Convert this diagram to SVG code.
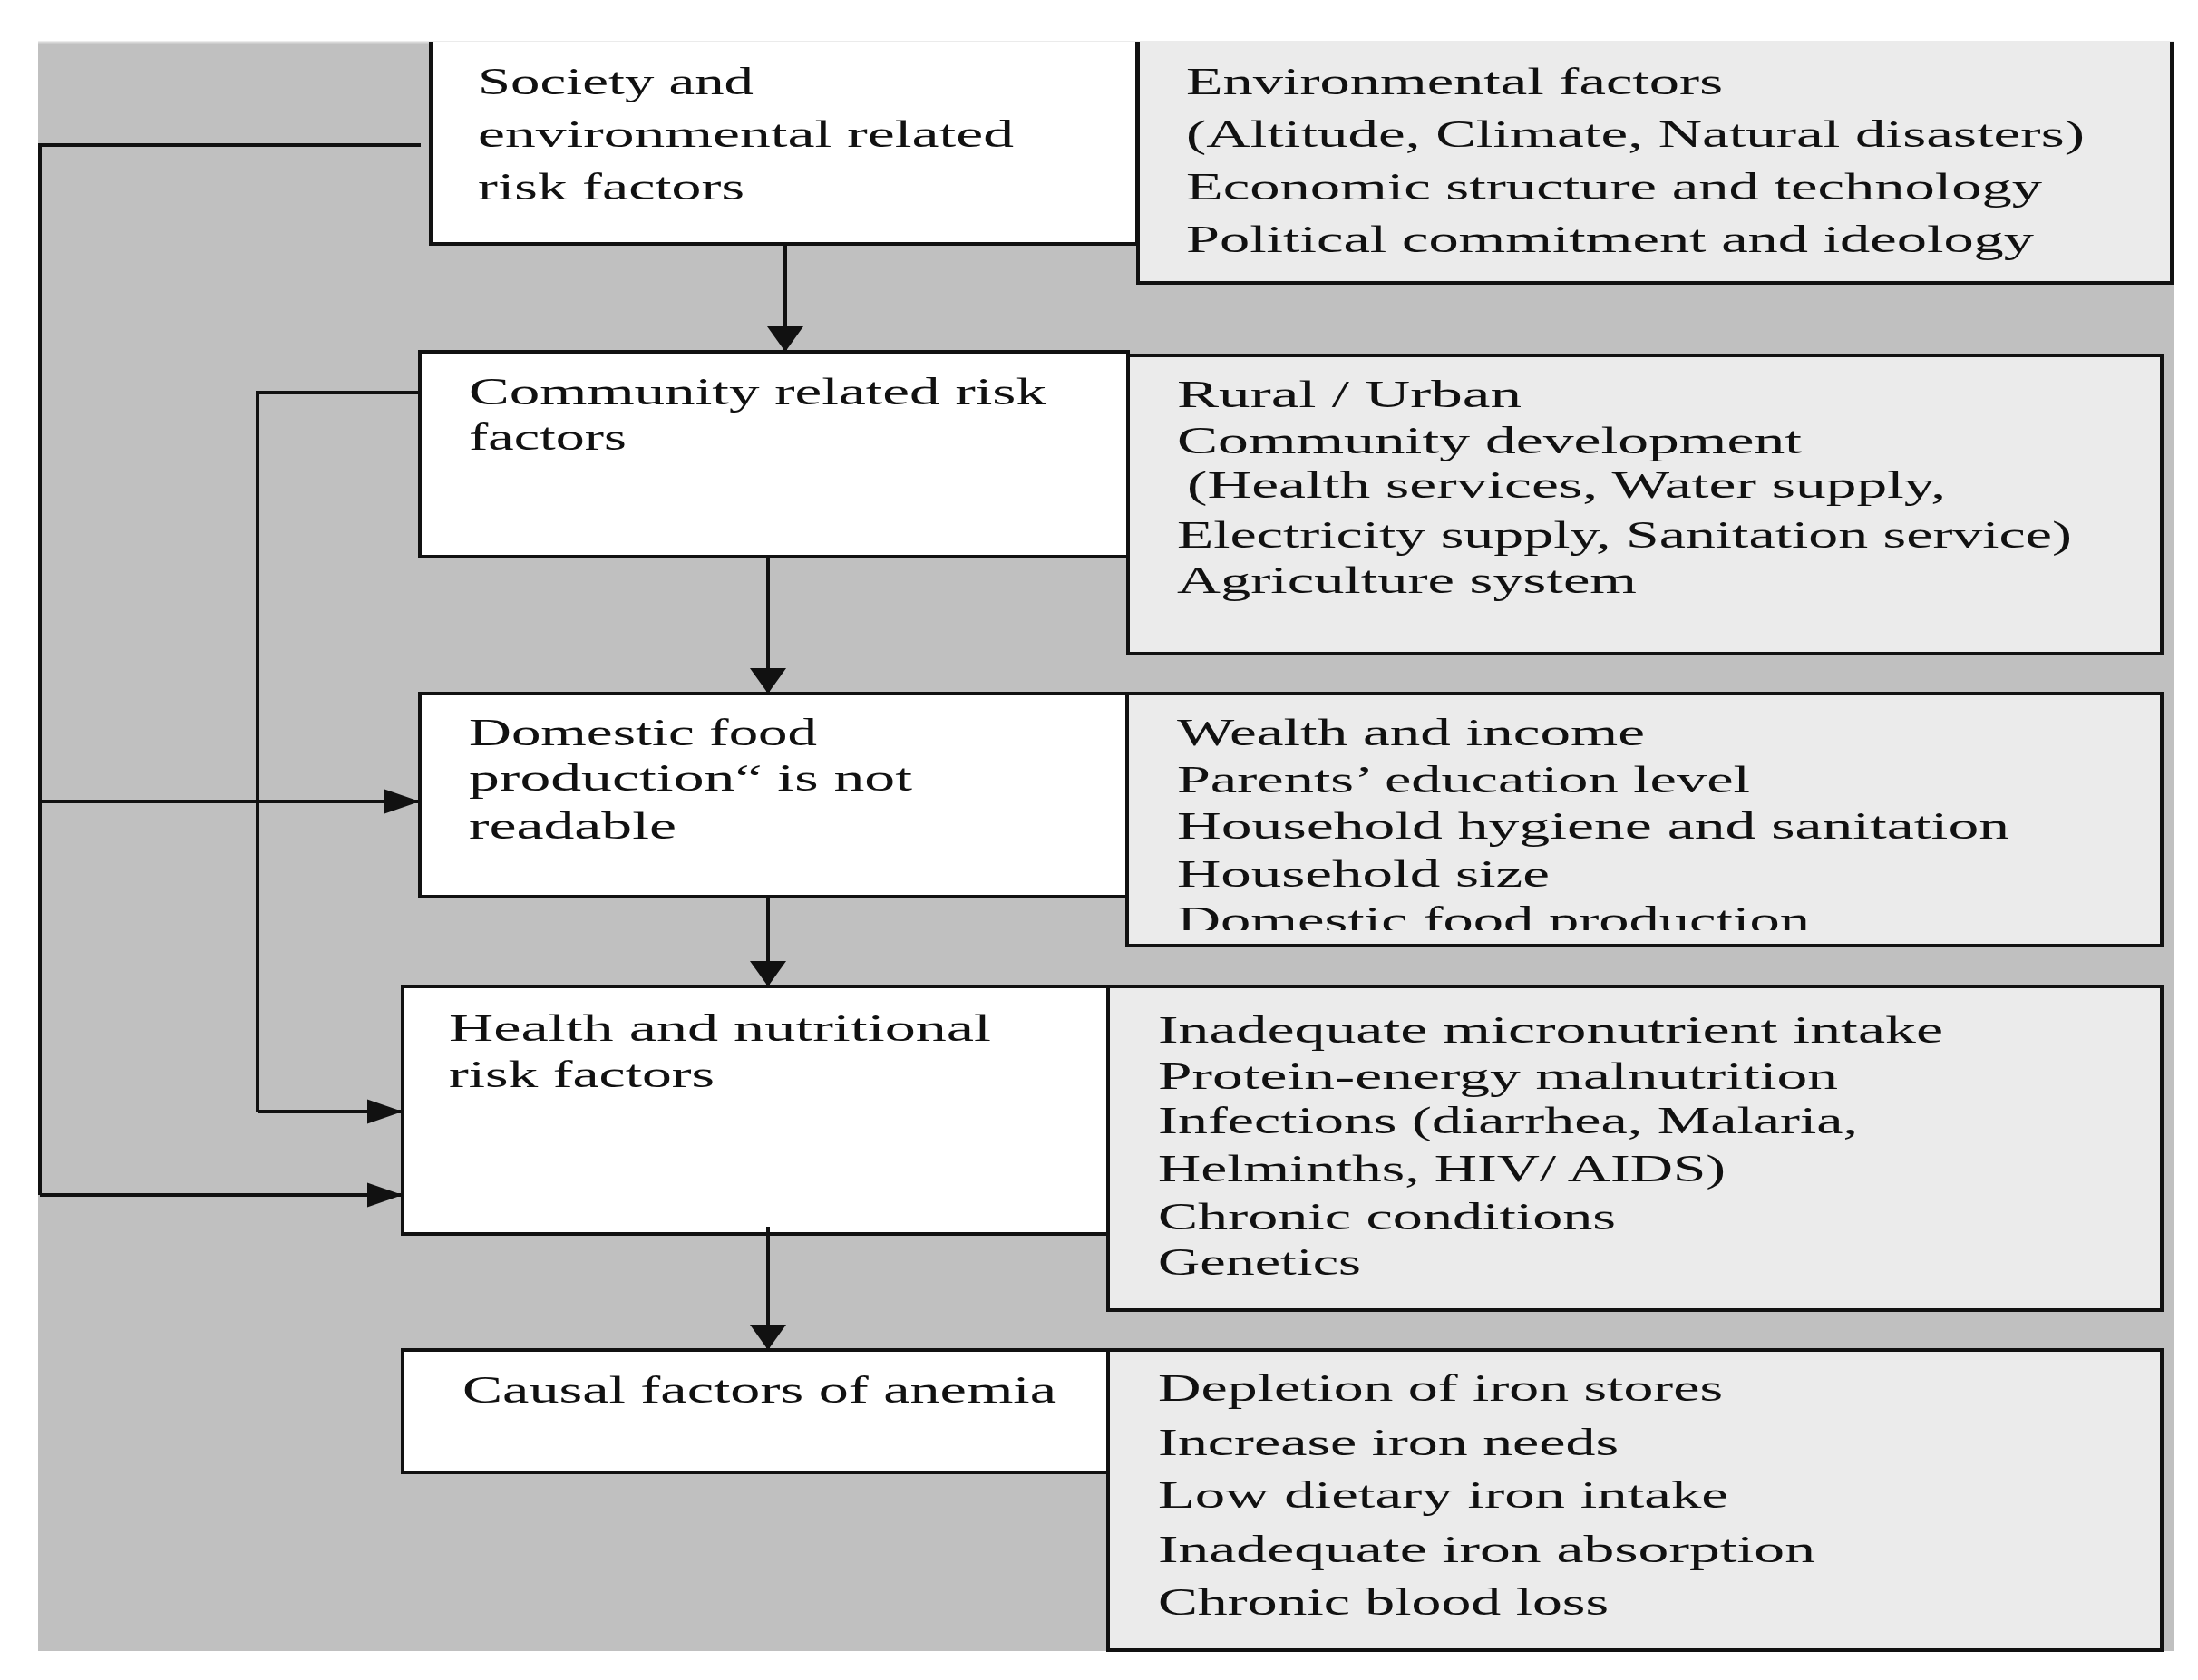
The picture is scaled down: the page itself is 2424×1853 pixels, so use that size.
<svg xmlns="http://www.w3.org/2000/svg" width="2424" height="1853" viewBox="0 0 2424 1853">
<style>
.bg{fill:#c0c0c0}
.lbox{fill:#ffffff;stroke:#111;stroke-width:4}
.rbox{fill:#ebebeb;stroke:#111;stroke-width:4}
.edge{fill:none;stroke:#111;stroke-width:4}
text{font-family:"Liberation Serif","Times New Roman",serif;font-size:42px;fill:#111}
</style>
<defs>
<marker id="ad" markerUnits="userSpaceOnUse" markerWidth="40" markerHeight="44" viewBox="0 -22 30 44" refX="28" refY="0" orient="auto"><path d="M0,-20 L28,0 L0,20 Z" fill="#111"/></marker>
<marker id="ar" markerUnits="userSpaceOnUse" markerWidth="42" markerHeight="32" viewBox="0 -16 41 32" refX="39" refY="0" orient="auto"><path d="M0,-13.5 L39,0 L0,13.5 Z" fill="#111"/></marker>
<clipPath id="clipDom"><rect x="1245" y="767" width="1137" height="259"/></clipPath>
</defs>
<rect class="bg" x="42" y="46" width="2356" height="1775"/>
<line x1="42" y1="46.5" x2="2398" y2="46.5" stroke="#d8d8d8" stroke-width="2"/>

<g id="env-factors">
<rect x="1255" y="46" width="1140" height="266" fill="#ebebeb"/>
<path class="edge" d="M1255,46 V312 H2395 V46"/>
<text x="1308" y="104" textLength="592" lengthAdjust="spacingAndGlyphs">Environmental factors</text>
<text x="1308" y="162" textLength="991" lengthAdjust="spacingAndGlyphs">(Altitude, Climate, Natural disasters)</text>
<text x="1308" y="220" textLength="944" lengthAdjust="spacingAndGlyphs">Economic structure and technology</text>
<text x="1308" y="278" textLength="935" lengthAdjust="spacingAndGlyphs">Political commitment and ideology</text>
</g>

<g id="society">
<rect x="475" y="46" width="779" height="223" fill="#ffffff"/>
<path class="edge" d="M475,46 V269 H1254 V46"/>
<text x="527" y="104" textLength="304" lengthAdjust="spacingAndGlyphs">Society and</text>
<text x="527" y="162" textLength="591" lengthAdjust="spacingAndGlyphs">environmental related</text>
<text x="527" y="220" textLength="294" lengthAdjust="spacingAndGlyphs">risk factors</text>
</g>

<g id="community-factors">
<rect class="rbox" x="1244" y="392" width="1140" height="329"/>
<text x="1298" y="449" textLength="380" lengthAdjust="spacingAndGlyphs">Rural / Urban</text>
<text x="1298" y="500" textLength="689" lengthAdjust="spacingAndGlyphs">Community development</text>
<text x="1309" y="549" textLength="837" lengthAdjust="spacingAndGlyphs">(Health services, Water supply,</text>
<text x="1298" y="604" textLength="987" lengthAdjust="spacingAndGlyphs">Electricity supply, Sanitation service)</text>
<text x="1298" y="654" textLength="507" lengthAdjust="spacingAndGlyphs">Agriculture system</text>
</g>

<g id="community">
<rect class="lbox" x="463" y="388" width="781" height="226"/>
<text x="517" y="446" textLength="637" lengthAdjust="spacingAndGlyphs">Community related risk</text>
<text x="517" y="496" textLength="174" lengthAdjust="spacingAndGlyphs">factors</text>
</g>

<g id="household-factors">
<rect class="rbox" x="1243" y="765" width="1141" height="278"/>
<text x="1298" y="822" textLength="516" lengthAdjust="spacingAndGlyphs">Wealth and income</text>
<text x="1298" y="874" textLength="632" lengthAdjust="spacingAndGlyphs">Parents’ education level</text>
<text x="1298" y="925" textLength="918" lengthAdjust="spacingAndGlyphs">Household hygiene and sanitation</text>
<text x="1298" y="978" textLength="411" lengthAdjust="spacingAndGlyphs">Household size</text>
<text x="1298" y="1029" textLength="698" lengthAdjust="spacingAndGlyphs" clip-path="url(#clipDom)">Domestic food production</text>
</g>

<g id="domestic">
<rect class="lbox" x="463" y="765" width="780" height="224"/>
<text x="517" y="822" textLength="384" lengthAdjust="spacingAndGlyphs">Domestic food</text>
<text x="517" y="872" textLength="489" lengthAdjust="spacingAndGlyphs">production“ is not</text>
<text x="517" y="925" textLength="229" lengthAdjust="spacingAndGlyphs">readable</text>
</g>

<g id="health-factors">
<rect class="rbox" x="1222" y="1088" width="1162" height="357"/>
<text x="1277" y="1150" textLength="866" lengthAdjust="spacingAndGlyphs">Inadequate micronutrient intake</text>
<text x="1277" y="1201" textLength="750" lengthAdjust="spacingAndGlyphs">Protein-energy malnutrition</text>
<text x="1277" y="1250" textLength="772" lengthAdjust="spacingAndGlyphs">Infections (diarrhea, Malaria,</text>
<text x="1277" y="1303" textLength="626" lengthAdjust="spacingAndGlyphs">Helminths, HIV/ AIDS)</text>
<text x="1277" y="1356" textLength="505" lengthAdjust="spacingAndGlyphs">Chronic conditions</text>
<text x="1277" y="1406" textLength="224" lengthAdjust="spacingAndGlyphs">Genetics</text>
</g>

<g id="health">
<rect class="lbox" x="444" y="1088" width="778" height="273"/>
<text x="495" y="1148" textLength="598" lengthAdjust="spacingAndGlyphs">Health and nutritional</text>
<text x="495" y="1199" textLength="293" lengthAdjust="spacingAndGlyphs">risk factors</text>
</g>

<g id="causal-factors">
<rect class="rbox" x="1222" y="1489" width="1162" height="331"/>
<text x="1277" y="1545" textLength="623" lengthAdjust="spacingAndGlyphs">Depletion of iron stores</text>
<text x="1277" y="1605" textLength="508" lengthAdjust="spacingAndGlyphs">Increase iron needs</text>
<text x="1277" y="1663" textLength="629" lengthAdjust="spacingAndGlyphs">Low dietary iron intake</text>
<text x="1277" y="1723" textLength="725" lengthAdjust="spacingAndGlyphs">Inadequate iron absorption</text>
<text x="1277" y="1781" textLength="497" lengthAdjust="spacingAndGlyphs">Chronic blood loss</text>
</g>

<g id="causal">
<rect class="lbox" x="444" y="1489" width="778" height="135"/>
<text x="510" y="1547" textLength="655" lengthAdjust="spacingAndGlyphs">Causal factors of anemia</text>
</g>

<g id="connectors">
<polyline class="edge" points="464,160 44,160 44,1318"/>
<line class="edge" x1="44" y1="884" x2="463" y2="884" marker-end="url(#ar)"/>
<line class="edge" x1="44" y1="1318" x2="444" y2="1318" marker-end="url(#ar)"/>
<polyline class="edge" points="463,433 284,433 284,1226"/>
<line class="edge" x1="284" y1="1226" x2="444" y2="1226" marker-end="url(#ar)"/>
<line class="edge" x1="866" y1="271" x2="866" y2="388" marker-end="url(#ad)"/>
<line class="edge" x1="847" y1="616" x2="847" y2="765" marker-end="url(#ad)"/>
<line class="edge" x1="847" y1="991" x2="847" y2="1088" marker-end="url(#ad)"/>
<line class="edge" x1="847" y1="1353" x2="847" y2="1489" marker-end="url(#ad)"/>
</g>
</svg>
